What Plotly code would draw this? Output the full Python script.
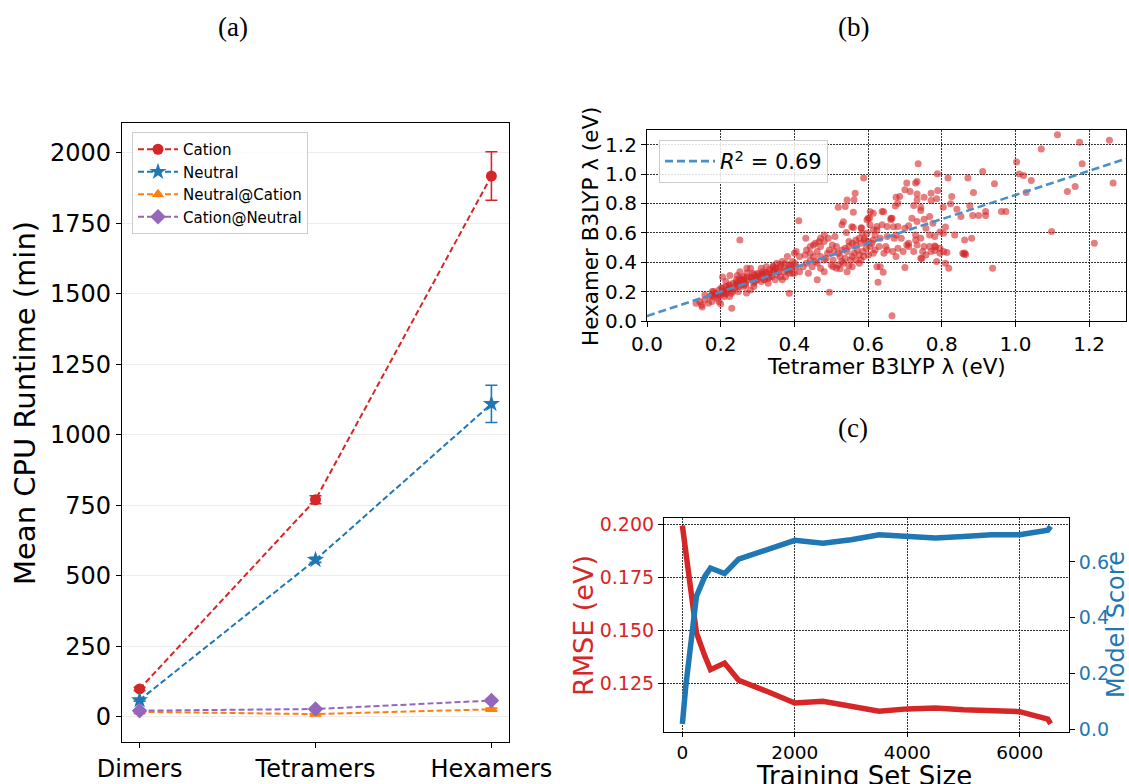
import plotly.graph_objects as go

# ---------------- (a) mean CPU runtime per cluster size ----------------
sizes = ["Dimers", "Tetramers", "Hexamers"]
cation_rt = [99, 770, 1918]
cation_err = [6, 14, 86]
neutral_rt = [60, 557, 1110]
neutral_err = [4, 9, 66]
neutral_at_cation_rt = [18, 10, 27]
neutral_at_cation_err = [2, 2, 4]
cation_at_neutral_rt = [22, 28, 58]
cation_at_neutral_err = [2, 2, 4]

# ---------------- (b) tetramer vs hexamer reorganisation energy ----------------
tetramer_lambda = [
    1.114, 1.070, 1.174, 1.255, 1.181, 1.003, 1.010, 1.022, 1.043, 1.029, 1.141, 1.162, 1.265, 1.098, 1.214,
    0.938, 0.911, 0.943, 0.962, 0.974, 0.919, 0.919, 0.884, 0.900, 0.886, 0.871, 0.876, 0.852, 0.841, 0.827,
    0.824, 0.817, 0.788, 0.789, 0.804, 0.810, 0.835, 0.881, 0.862, 0.857, 0.860, 0.865, 0.862, 0.814, 0.810,
    0.819, 0.786, 0.743, 0.676, 0.700, 0.633, 0.624, 0.641, 0.627, 0.665, 0.648, 0.630,
    0.588, 0.736, 0.705, 0.729, 0.733, 0.714, 0.700, 0.733, 0.676, 0.686, 0.752, 0.771, 0.786, 0.771, 0.733,
    0.681, 0.638, 0.614, 0.562, 0.538, 0.560, 0.519, 0.743, 0.724, 0.719, 0.743, 0.752, 0.767, 0.776, 0.757,
    0.733, 0.710, 0.700, 0.681, 0.662, 0.662, 0.652, 0.638, 0.624, 0.600, 0.597, 0.605, 0.614, 0.597, 0.584,
    0.619, 0.676, 0.671, 0.690, 0.705, 0.729, 0.743, 0.767, 0.781, 0.795, 0.805, 0.767, 0.781, 0.795, 0.781,
    0.752, 0.710, 0.729, 0.652, 0.633, 0.614, 0.610, 0.600, 0.590, 0.576, 0.567, 0.557, 0.548,
    0.560, 0.529, 0.541, 0.581, 0.510, 0.503, 0.471, 0.481, 0.471, 0.452, 0.431, 0.412, 0.252, 0.495, 0.386,
    0.529, 0.543, 0.524, 0.538, 0.557, 0.576, 0.567, 0.581, 0.519, 0.524, 0.548, 0.505, 0.490, 0.486, 0.471,
    0.462, 0.452, 0.443, 0.433, 0.443, 0.462, 0.471, 0.481, 0.462, 0.438, 0.424, 0.405, 0.414, 0.400, 0.505,
    0.414, 0.400, 0.429, 0.443, 0.457, 0.467, 0.481, 0.492, 0.514, 0.508, 0.495, 0.481, 0.457, 0.448, 0.433,
    0.500, 0.514, 0.533, 0.552, 0.562, 0.571, 0.586, 0.595, 0.588, 0.576, 0.557, 0.543, 0.529, 0.519, 0.538,
    0.548, 0.567, 0.581, 0.590, 0.605, 0.619, 0.614, 0.601, 0.643, 0.652, 0.667, 0.681, 0.695, 0.710, 0.724,
    0.733, 0.748, 0.757, 0.771, 0.795, 0.805, 0.543, 0.565, 0.533, 0.582, 0.556, 0.674, 0.606, 0.642, 0.665,
    0.604, 0.624, 0.669, 0.746, 0.783,
    0.381, 0.367, 0.352, 0.376, 0.386, 0.395, 0.362, 0.348, 0.333, 0.324, 0.314, 0.310, 0.300, 0.290, 0.281,
    0.271, 0.262, 0.252, 0.243, 0.233, 0.224, 0.214, 0.205, 0.195, 0.186, 0.176, 0.167, 0.157, 0.148, 0.133,
    0.143, 0.157, 0.176, 0.190, 0.200, 0.210, 0.219, 0.229, 0.238, 0.248, 0.257, 0.267, 0.276, 0.286, 0.295,
    0.305, 0.314, 0.324, 0.333, 0.343, 0.352, 0.362, 0.371, 0.381, 0.390, 0.395, 0.367, 0.348, 0.329, 0.310,
    0.290, 0.281, 0.262, 0.248, 0.233, 0.224, 0.210, 0.230, 0.200, 0.195, 0.181, 0.150, 0.214, 0.252, 0.271,
    0.329, 0.338, 0.319, 0.357, 0.376, 0.386, 0.343, 0.300, 0.262, 0.243, 0.257, 0.286, 0.290, 0.224, 0.205,
    0.195, 0.181, 0.171, 0.205, 0.225, 0.245, 0.270, 0.214, 0.177, 0.405,
    0.322, 0.342, 0.302, 0.282, 0.262, 0.352, 0.372, 0.392, 0.312, 0.332, 0.242, 0.222, 0.202, 0.272, 0.292,
    0.362, 0.382, 0.402, 0.342, 0.318, 0.228, 0.248, 0.268, 0.188, 0.212,
]
hexamer_lambda = [
    1.268, 1.170, 1.216, 1.230, 1.070, 1.082, 1.000, 0.990, 0.957, 0.875, 0.882, 0.916, 0.940, 0.609, 0.530,
    0.359, 1.018, 0.934, 0.745, 0.745, 0.745, 0.718, 0.718, 0.718, 0.875, 0.973, 0.784, 0.711, 0.761, 0.848,
    0.798, 0.973, 1.002, 0.889, 0.775, 0.639, 0.586, 0.564, 0.552, 0.461, 0.455, 0.452, 0.462, 0.466, 0.393,
    0.359, 0.405, 0.427, 0.439, 0.364, 0.370, 0.370, 0.332, 0.264, 0.036, 0.507, 0.507,
    0.973, 1.070, 0.939, 0.939, 0.950, 0.882, 0.893, 0.864, 0.843, 0.848, 0.843, 0.870, 0.832, 0.820, 0.825,
    0.802, 0.745, 0.734, 0.825, 0.780, 0.741, 0.775, 0.775, 0.786, 0.700, 0.752, 0.693, 0.711, 0.666, 0.632,
    0.677, 0.648, 0.632, 0.643, 0.700, 0.689, 0.643, 0.655, 0.643, 0.700, 0.689, 0.655, 0.620, 0.598, 0.598,
    0.586, 0.586, 0.564, 0.564, 0.518, 0.552, 0.564, 0.586, 0.575, 0.605, 0.598, 0.507, 0.511, 0.495, 0.480,
    0.507, 0.530, 0.586, 0.575, 0.564, 0.552, 0.530, 0.541, 0.564, 0.564, 0.552, 0.530, 0.541,
    0.636, 0.655, 0.602, 0.632, 0.575, 0.518, 0.564, 0.541, 0.507, 0.518, 0.564, 0.682, 0.552, 0.195, 0.189,
    0.484, 0.473, 0.439, 0.427, 0.439, 0.450, 0.416, 0.416, 0.382, 0.355, 0.377, 0.416, 0.461, 0.427, 0.439,
    0.473, 0.439, 0.461, 0.484, 0.416, 0.393, 0.359, 0.336, 0.280, 0.325, 0.370, 0.370, 0.336, 0.325, 0.370,
    0.439, 0.461, 0.450, 0.507, 0.530, 0.541, 0.586, 0.564, 0.507, 0.473, 0.484, 0.416, 0.405, 0.370, 0.393,
    0.382, 0.359, 0.393, 0.416, 0.461, 0.484, 0.473, 0.495, 0.439, 0.393, 0.370, 0.336, 0.405, 0.461, 0.495,
    0.507, 0.518, 0.530, 0.552, 0.507, 0.484, 0.461, 0.450, 0.461, 0.484, 0.473, 0.495, 0.473, 0.507, 0.473,
    0.518, 0.473, 0.450, 0.473, 0.461, 0.473, 0.823, 0.869, 0.676, 0.635, 0.641, 0.782, 0.744, 0.744, 0.699,
    0.699, 0.619, 0.641, 0.426, 0.506,
    0.439, 0.405, 0.393, 0.393, 0.382, 0.405, 0.370, 0.359, 0.348, 0.370, 0.336, 0.359, 0.325, 0.314, 0.359,
    0.325, 0.302, 0.291, 0.280, 0.257, 0.245, 0.234, 0.223, 0.211, 0.189, 0.132, 0.120, 0.143, 0.109, 0.120,
    0.132, 0.177, 0.177, 0.155, 0.177, 0.200, 0.211, 0.189, 0.223, 0.234, 0.245, 0.257, 0.280, 0.291, 0.302,
    0.302, 0.314, 0.325, 0.325, 0.336, 0.314, 0.302, 0.336, 0.348, 0.359, 0.325, 0.280, 0.280, 0.257, 0.268,
    0.257, 0.211, 0.234, 0.200, 0.200, 0.166, 0.166, 0.086, 0.116, 0.132, 0.166, 0.095, 0.268, 0.336, 0.359,
    0.291, 0.302, 0.280, 0.336, 0.302, 0.325, 0.370, 0.280, 0.268, 0.245, 0.280, 0.325, 0.234, 0.223, 0.200,
    0.177, 0.200, 0.166, 0.300, 0.310, 0.310, 0.190, 0.189, 0.200, 0.473,
    0.330, 0.348, 0.316, 0.296, 0.284, 0.352, 0.362, 0.374, 0.318, 0.300, 0.262, 0.240, 0.226, 0.300, 0.270,
    0.384, 0.342, 0.392, 0.372, 0.286, 0.216, 0.262, 0.244, 0.178, 0.184,
]
fit_slope = [0.824]
fit_intercept = [0.034]
fit_r2 = 0.69

# ---------------- (c) learning curve ----------------
train_size = [0, 60, 250, 400, 500, 750, 1000, 1500, 2000, 2500, 3000, 3500, 4000, 4500, 5000, 5500, 6000, 6500, 6550]
rmse_ev = [0.1995, 0.1880, 0.1489, 0.1380, 0.1316, 0.1347, 0.1266, 0.1214, 0.1159, 0.1167, 0.1146, 0.1120,
           0.1131, 0.1135, 0.1127, 0.1120, 0.1118, 0.1083, 0.1061]
model_score = [0.020, 0.154, 0.477, 0.548, 0.578, 0.558, 0.610, 0.644, 0.677, 0.667, 0.679, 0.697,
               0.691, 0.685, 0.691, 0.697, 0.697, 0.713, 0.727]

RED = "#d62728"
BLUE = "#1f77b4"
ORANGE = "#ff7f0e"
PURPLE = "#9467bd"
FONT = "DejaVu Sans"

W, H = 1129, 784


def px_x(p):
    return p / W


def px_y(p):
    return 1 - p / H


fig = go.Figure()

series_a = [
    ("Cation", cation_rt, cation_err, RED, "circle", 11),
    ("Neutral", neutral_rt, neutral_err, BLUE, "star", 13),
    ("Neutral@Cation", neutral_at_cation_rt, neutral_at_cation_err, ORANGE, "triangle-up", 11),
    ("Cation@Neutral", cation_at_neutral_rt, cation_at_neutral_err, PURPLE, "diamond", 12),
]
for name, vals, errs, col, sym, sz in series_a:
    fig.add_trace(go.Scatter(
        x=sizes, y=vals, name=name, mode="lines+markers",
        line=dict(color=col, width=2, dash="6px,3px"),
        marker=dict(color=col, symbol=sym, size=sz),
        error_y=dict(type="data", array=errs, color=col, thickness=1.6, width=6),
        xaxis="x", yaxis="y", legend="legend",
    ))

fig.add_trace(go.Scatter(
    x=tetramer_lambda, y=hexamer_lambda, mode="markers", showlegend=False,
    marker=dict(color=RED, size=7, opacity=0.6, line=dict(width=0)),
    xaxis="x2", yaxis="y2",
))
fit_x = [0.0, 1.3]
fit_y = [fit_intercept[0] + fit_slope[0] * v for v in fit_x]
fig.add_trace(go.Scatter(
    x=fit_x, y=fit_y, mode="lines", name=f"<i>R</i><sup>2</sup> = {fit_r2:.2f}",
    line=dict(color="#4a90c8", width=2.6, dash="8px,4px"),
    xaxis="x2", yaxis="y2", legend="legend2",
))

fig.add_trace(go.Scatter(
    x=train_size, y=rmse_ev, mode="lines", showlegend=False,
    line=dict(color=RED, width=5.5), xaxis="x3", yaxis="y3",
))
fig.add_trace(go.Scatter(
    x=train_size, y=model_score, mode="lines", showlegend=False,
    line=dict(color=BLUE, width=5.5), xaxis="x3", yaxis="y4",
))

frame = dict(showline=True, linecolor="black", linewidth=1.2, mirror=True,
             ticks="outside", ticklen=5, tickcolor="black", zeroline=False, automargin=False)
dotted_grid = dict(showgrid=True, gridcolor="rgba(0,0,0,0.8)", gridwidth=1, griddash="2px,1px")

fig.update_layout(
    width=W, height=H,
    margin=dict(l=0, r=0, t=0, b=0),
    paper_bgcolor="white", plot_bgcolor="white",
    font=dict(family=FONT, color="black"),
    xaxis=dict(
        domain=[px_x(122), px_x(509)], anchor="y", range=[-0.1, 2.1],
        tickfont=dict(size=24), showgrid=False, **frame,
    ),
    yaxis=dict(
        domain=[px_y(742), px_y(123)], anchor="x", range=[-89, 2106],
        tickvals=[0, 250, 500, 750, 1000, 1250, 1500, 1750, 2000],
        tickfont=dict(size=24), showgrid=True, gridcolor="#ececec", gridwidth=1,
        **frame,
    ),
    xaxis2=dict(
        domain=[px_x(647), px_x(1126)], anchor="y2", range=[0, 1.3],
        tickvals=[0, 0.2, 0.4, 0.6, 0.8, 1.0, 1.2], tickformat=".1f",
        tickfont=dict(size=20), **dotted_grid, **frame,
    ),
    yaxis2=dict(
        domain=[px_y(321), px_y(130)], anchor="x2", range=[0, 1.3],
        tickvals=[0, 0.2, 0.4, 0.6, 0.8, 1.0, 1.2], tickformat=".1f",
        tickfont=dict(size=20), **dotted_grid, **frame,
    ),
    xaxis3=dict(
        domain=[px_x(664), px_x(1069)], anchor="y3", range=[-327, 6877],
        tickvals=[0, 2000, 4000, 6000], tickfont=dict(size=18.5),
        **dotted_grid, **{**frame, "ticklen": 4},
    ),
    yaxis3=dict(
        domain=[px_y(732), px_y(518)], anchor="x3", range=[0.1022, 0.2031],
        tickvals=[0.125, 0.150, 0.175, 0.200], tickformat=".3f",
        tickfont=dict(size=19, color=RED), **dotted_grid, **frame,
    ),
    yaxis4=dict(
        domain=[px_y(732), px_y(518)], anchor="x3", overlaying="y3", side="right",
        range=[-0.009, 0.757], tickvals=[0.0, 0.2, 0.4, 0.6], tickformat=".1f",
        tickfont=dict(size=19, color=BLUE),
        showgrid=False, showline=False, ticks="outside", ticklen=5, tickcolor="black",
        zeroline=False, automargin=False,
    ),
    legend=dict(
        x=px_x(132), y=px_y(132), xanchor="left", yanchor="top",
        bgcolor="rgba(255,255,255,0.85)", bordercolor="#cccccc", borderwidth=1,
        font=dict(size=15), tracegroupgap=0, itemwidth=40,
    ),
    legend2=dict(
        x=px_x(659), y=px_y(140), xanchor="left", yanchor="top",
        bgcolor="rgba(255,255,255,0.85)", bordercolor="#cccccc", borderwidth=1,
        font=dict(size=21), itemwidth=50,
    ),
    showlegend=True,
)

# axis titles placed as paper annotations
axis_titles = [
    ("Mean CPU Runtime (min)", 25, 403, -90, 29, "black"),
    ("Tetramer B3LYP λ (eV)", 886, 366, 0, 21.5, "black"),
    ("Hexamer B3LYP λ (eV)", 591, 226, -90, 21.5, "black"),
    ("Training Set Size", 864, 776, 0, 26, "black"),
    ("RMSE (eV)", 583, 625, -90, 27, RED),
    ("Model Score", 1116, 625, -90, 24, BLUE),
]
for text, cx, cy, ang, size, col in axis_titles:
    fig.add_annotation(
        text=text, x=px_x(cx), y=px_y(cy), xref="paper", yref="paper",
        showarrow=False, xanchor="center", yanchor="middle", textangle=ang,
        font=dict(family=FONT, size=size, color=col),
    )

panel_labels = [("(a)", 233, 27), ("(b)", 853, 27), ("(c)", 853, 428)]
for text, cx, cy in panel_labels:
    fig.add_annotation(
        text=text, x=px_x(cx), y=px_y(cy), xref="paper", yref="paper",
        showarrow=False, xanchor="center", yanchor="middle",
        font=dict(family="Liberation Serif", size=27, color="black"),
    )

fig.write_html("out.html")
